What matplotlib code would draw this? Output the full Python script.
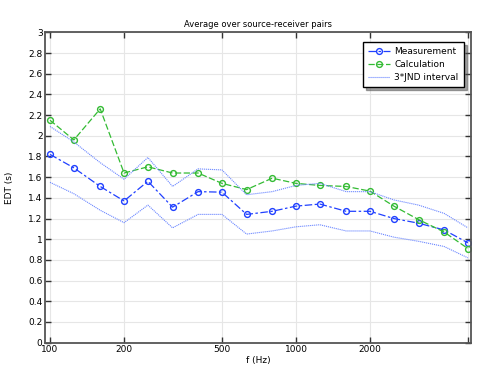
import numpy as np
import matplotlib
matplotlib.use('Agg')
import matplotlib.pyplot as plt

# third-octave band centre frequencies
freq = [100, 125, 160, 200, 250, 315, 400, 500, 630, 800, 1000, 1250, 1600, 2000, 2500, 3150, 4000, 5000]
measurement = [1.82, 1.69, 1.51, 1.37, 1.56, 1.31, 1.46, 1.455, 1.24, 1.27, 1.32, 1.34, 1.27, 1.27, 1.20, 1.155, 1.09, 0.965]
calculation = [2.15, 1.96, 2.26, 1.64, 1.70, 1.64, 1.64, 1.54, 1.48, 1.59, 1.54, 1.52, 1.51, 1.465, 1.32, 1.19, 1.07, 0.91]
jnd_upper = [2.09, 1.94, 1.74, 1.58, 1.79, 1.51, 1.68, 1.67, 1.43, 1.46, 1.52, 1.54, 1.46, 1.46, 1.38, 1.33, 1.25, 1.11]
jnd_lower = [1.55, 1.44, 1.28, 1.16, 1.33, 1.11, 1.24, 1.24, 1.05, 1.08, 1.12, 1.14, 1.08, 1.08, 1.02, 0.98, 0.93, 0.82]

xticks = [100, 200, 500, 1000, 2000, 5000]
xticklabels = ['100', '200', '500', '1000', '2000', '']

plt.rcParams['font.family'] = 'DejaVu Sans'
fs = 6
fig = plt.figure(figsize=(4.79, 3.66), dpi=100)
ax = fig.add_axes([0.0946, 0.0637, 0.8884, 0.848])

blue = '#2040ff'
green = '#33bb33'
ax.plot(freq, measurement, color=blue, ls=(0, (6, 2, 2, 2)), lw=0.9, marker='o', ms=4.2,
        mfc='none', mec=blue, mew=1.0, label='Measurement')
ax.plot(freq, calculation, color=green, ls=(0, (5, 2)), lw=0.9, marker='o', ms=4.2,
        mfc='none', mec=green, mew=1.0, label='Calculation')
ax.plot(freq, jnd_upper, color='#6a86ff', ls=(0, (1, 0.8)), lw=0.8, label='3*JND interval')
ax.plot(freq, jnd_lower, color='#6a86ff', ls=(0, (1, 0.8)), lw=0.8)

ax.set_xscale('log')
ax.set_xlim(95.7, 5140)
ax.set_ylim(0, 3)
ax.set_xticks(xticks)
ax.set_xticklabels(xticklabels)
ax.xaxis.set_minor_locator(matplotlib.ticker.NullLocator())
ax.set_yticks(np.arange(0, 3.01, 0.2))
ax.set_yticklabels(['0', '0.2', '0.4', '0.6', '0.8', '1', '1.2', '1.4', '1.6', '1.8',
                    '2', '2.2', '2.4', '2.6', '2.8', '3'])
ax.tick_params(direction='in', length=4, width=1, labelsize=fs + 0.5, colors='#333333',
               top=True, right=True, pad=2)
ax.tick_params(labelcolor='black')
ax.grid(True, color='#e6e6e6', lw=0.8)
for s in ax.spines.values():
    s.set_color('#555555')
    s.set_linewidth(1.3)

ax.set_title('Average over source-receiver pairs', fontsize=fs, pad=4)
ax.set_xlabel('f (Hz)', fontsize=fs + 0.5, va='center')
ax.xaxis.set_label_coords(0.5, -0.056)
ax.set_ylabel('EDT (s)', fontsize=fs + 0.5, va='center')
ax.yaxis.set_label_coords(-0.083, 0.5)

leg = ax.legend(loc='upper right', bbox_to_anchor=(0.9836, 0.9687), borderaxespad=0,
                fontsize=fs + 0.5, frameon=True, fancybox=False, shadow=True,
                handlelength=2.4, borderpad=0.6, labelspacing=0.4, handletextpad=0.45)
leg.get_frame().set_edgecolor('black')
leg.get_frame().set_linewidth(1.0)

fig.savefig('out.png', dpi=100)
